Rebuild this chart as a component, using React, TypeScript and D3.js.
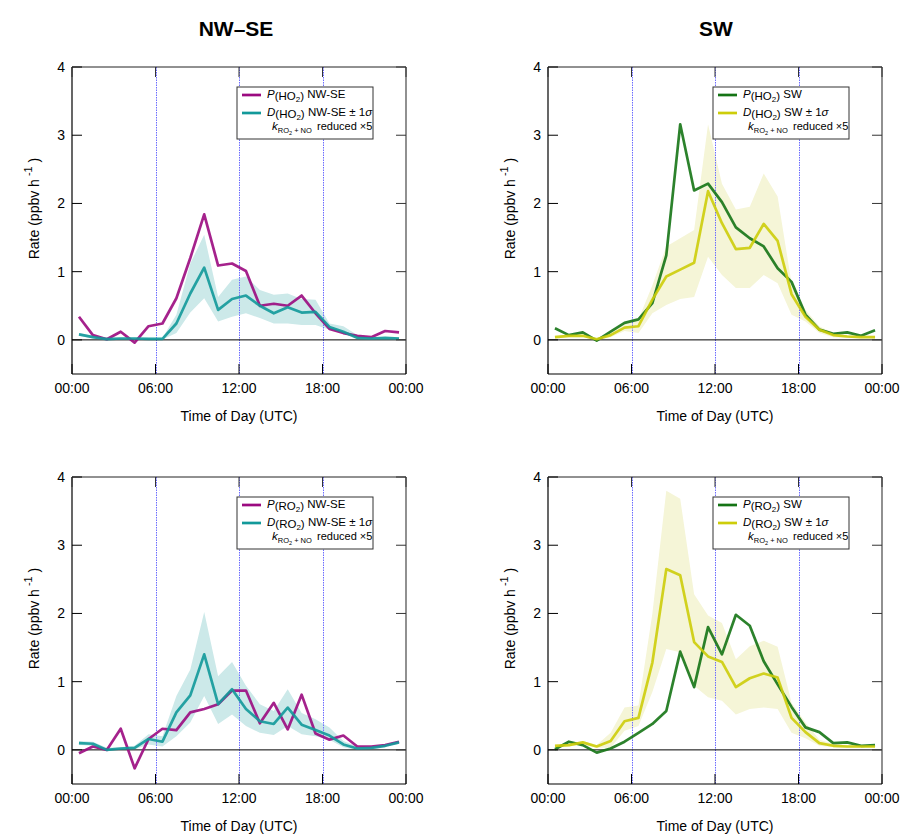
import React from "react";
import * as d3 from "d3";

const HOURS = [0.5, 1.5, 2.5, 3.5, 4.5, 5.5, 6.5, 7.5, 8.5, 9.5, 10.5, 11.5, 12.5, 13.5, 14.5, 15.5, 16.5, 17.5, 18.5, 19.5, 20.5, 21.5, 22.5, 23.5];
const X_TICKS = [0, 6, 12, 18, 24];
const X_TICK_LABELS = ["00:00", "06:00", "12:00", "18:00", "00:00"];
const Y_TICKS = [0, 1, 2, 3, 4];
const GUIDE_HOURS = [6, 12, 18];

// HO2, NW-SE
const P_HO2_NWSE = [0.34, 0.07, 0.01, 0.12, -0.04, 0.2, 0.24, 0.61, 1.2, 1.84, 1.09, 1.12, 1.01, 0.5, 0.53, 0.5, 0.65, 0.39, 0.16, 0.1, 0.06, 0.04, 0.13, 0.11];
const D_HO2_NWSE = [0.08, 0.04, 0.01, 0.02, 0.02, 0.015, 0.015, 0.24, 0.68, 1.06, 0.44, 0.6, 0.65, 0.5, 0.39, 0.48, 0.4, 0.41, 0.19, 0.12, 0.03, 0.02, 0.03, 0.02];
const D_HO2_NWSE_HI = [0.1, 0.06, 0.03, 0.03, 0.03, 0.03, 0.03, 0.37, 1.12, 1.54, 0.63, 0.88, 0.93, 0.73, 0.66, 0.68, 0.6, 0.59, 0.24, 0.2, 0.07, 0.04, 0.04, 0.04];
const D_HO2_NWSE_LO = [0.06, 0.02, 0, 0.01, 0.01, 0.005, 0.005, 0.1, 0.4, 0.61, 0.27, 0.34, 0.39, 0.32, 0.24, 0.24, 0.22, 0.22, 0.15, 0.09, 0.01, 0.01, 0.01, 0.01];

// HO2, SW
const P_HO2_SW = [0.17, 0.07, 0.11, -0.01, 0.12, 0.25, 0.3, 0.54, 1.24, 3.16, 2.19, 2.29, 2.02, 1.65, 1.49, 1.37, 1.05, 0.85, 0.37, 0.15, 0.09, 0.11, 0.06, 0.14];
const D_HO2_SW = [0.04, 0.06, 0.06, 0.01, 0.07, 0.18, 0.2, 0.59, 0.93, 1.03, 1.13, 2.18, 1.71, 1.33, 1.35, 1.7, 1.45, 0.67, 0.34, 0.15, 0.07, 0.05, 0.04, 0.04];
const D_HO2_SW_HI = [0.06, 0.08, 0.08, 0.03, 0.1, 0.25, 0.3, 0.8, 1.37, 1.49, 1.61, 3.16, 2.29, 1.91, 1.95, 2.44, 2.1, 0.83, 0.44, 0.2, 0.1, 0.07, 0.06, 0.06];
const D_HO2_SW_LO = [0.02, 0.04, 0.04, 0, 0.04, 0.13, 0.1, 0.39, 0.51, 0.6, 0.63, 1.22, 0.95, 0.76, 0.76, 0.95, 0.83, 0.37, 0.27, 0.1, 0.04, 0.03, 0.02, 0.02];

// RO2, NW-SE
const P_RO2_NWSE = [-0.05, 0.05, 0, 0.31, -0.27, 0.16, 0.31, 0.29, 0.55, 0.6, 0.67, 0.87, 0.87, 0.39, 0.69, 0.3, 0.81, 0.24, 0.15, 0.21, 0.05, 0.05, 0.07, 0.12];
const D_RO2_NWSE = [0.1, 0.09, 0, 0.02, 0.03, 0.16, 0.12, 0.55, 0.8, 1.4, 0.67, 0.89, 0.6, 0.42, 0.38, 0.62, 0.37, 0.29, 0.21, 0.08, 0.02, 0.03, 0.06, 0.11];
const D_RO2_NWSE_HI = [0.13, 0.12, 0.03, 0.04, 0.06, 0.23, 0.2, 0.79, 1.18, 2.02, 1.08, 1.29, 0.94, 0.67, 0.57, 0.89, 0.54, 0.45, 0.33, 0.13, 0.05, 0.05, 0.08, 0.13];
const D_RO2_NWSE_LO = [0.07, 0.06, -0.01, 0, 0.01, 0.08, 0.05, 0.2, 0.4, 0.79, 0.38, 0.52, 0.35, 0.25, 0.22, 0.35, 0.23, 0.2, 0.15, 0.04, 0, 0.01, 0.04, 0.09];

// RO2, SW
const P_RO2_SW = [0.01, 0.12, 0.07, -0.04, 0.02, 0.12, 0.25, 0.38, 0.57, 1.44, 0.92, 1.8, 1.4, 1.98, 1.82, 1.3, 0.96, 0.63, 0.33, 0.26, 0.1, 0.11, 0.06, 0.07];
const D_RO2_SW = [0.06, 0.07, 0.11, 0.05, 0.13, 0.42, 0.47, 1.28, 2.65, 2.56, 1.58, 1.37, 1.29, 0.92, 1.05, 1.12, 1.06, 0.47, 0.26, 0.1, 0.06, 0.05, 0.05, 0.05];
const D_RO2_SW_HI = [0.08, 0.09, 0.13, 0.07, 0.25, 0.62, 0.65, 2.0, 3.8, 3.68, 2.28, 1.97, 1.86, 1.33, 1.52, 1.6, 1.51, 0.69, 0.4, 0.15, 0.09, 0.07, 0.07, 0.07];
const D_RO2_SW_LO = [0.04, 0.05, 0.08, 0.03, 0.03, 0.28, 0.35, 0.85, 1.48, 1.43, 0.94, 0.77, 0.72, 0.52, 0.6, 0.62, 0.6, 0.25, 0.17, 0.06, 0.04, 0.03, 0.03, 0.03];

const TITLES = ["NW–SE", "SW"];
const FONT = "'Liberation Sans', Arial, Helvetica, sans-serif";

const MAGENTA = "#9b0a80";
const TEAL = "#12999a";
const TEAL_BAND = "#cce9e9";
const GREEN = "#157415";
const YELLOW = "#cdcd0a";
const YELLOW_BAND = "#f5f5d7";

type PanelProps = {
  x0: number; x1: number; y0: number; y1: number;
  P: number[]; D: number[]; hi: number[]; lo: number[];
  pColor: string; dColor: string; bandColor: string;
  species: string; region: string;
};

function Panel(props: PanelProps) {
  const { x0, x1, y0, y1, P, D, hi, lo, pColor, dColor, bandColor, species, region } = props;
  const x = d3.scaleLinear().domain([0, 24]).range([x0, x1]);
  const y = d3.scaleLinear().domain([-0.5, 4]).range([y1, y0]);
  const line = d3.line<number>().x((_, i) => x(HOURS[i])).y((v) => y(v));
  const area = d3
    .area<number>()
    .x((_, i) => x(HOURS[i]))
    .y0((_, i) => y(lo[i]))
    .y1((v) => y(v));
  const tick = 10;
  const lx = x1 - 169;
  const ly = y0 + 20;
  const cx = (x0 + x1) / 2;
  const cy = (y0 + y1) / 2;
  const LF = 11.5;
  return (
    <g fontFamily={FONT}>
      <path d={area(hi) || ""} fill={bandColor} />
      {GUIDE_HOURS.map((h) => (
        <line key={h} x1={Math.round(x(h)) + 0.5} x2={Math.round(x(h)) + 0.5} y1={y0} y2={y1} stroke="#6b6bff" strokeWidth={1} strokeDasharray="1.5,1" />
      ))}
      <line x1={x0} x2={x1} y1={y(0)} y2={y(0)} stroke="#000" strokeWidth={1} />
      <path d={line(P) || ""} fill="none" stroke={pColor} strokeWidth={2.7} strokeOpacity={0.9} strokeLinejoin="round" />
      <path d={line(D) || ""} fill="none" stroke={dColor} strokeWidth={2.7} strokeOpacity={0.9} strokeLinejoin="round" />
      {/* frame */}
      <line x1={x0} x2={x1} y1={y0} y2={y0} stroke="#222" strokeWidth={1} />
      <line x1={x1} x2={x1} y1={y0} y2={y1} stroke="#555" strokeWidth={1.3} />
      <line x1={x0} x2={x0} y1={y0} y2={y1} stroke="#000" strokeWidth={1.2} />
      <line x1={x0} x2={x1} y1={y1} y2={y1} stroke="#000" strokeWidth={1.2} />
      {Y_TICKS.map((t) => (
        <g key={"y" + t}>
          <line x1={x0} x2={x0 + tick} y1={y(t)} y2={y(t)} stroke="#000" />
          <line x1={x1 - tick} x2={x1} y1={y(t)} y2={y(t)} stroke="#333" />
          <text x={x0 - 7} y={y(t) + 5} fontSize={14} textAnchor="end" fill="#000">
            {t}
          </text>
        </g>
      ))}
      {X_TICKS.map((t, i) => (
        <g key={"x" + i}>
          <line x1={x(t)} x2={x(t)} y1={y1} y2={y1 - tick} stroke="#000" />
          <line x1={x(t)} x2={x(t)} y1={y0} y2={y0 + tick} stroke="#333" />
          <text x={x(t)} y={y1 + 19} fontSize={14} textAnchor="middle" fill="#000">
            {X_TICK_LABELS[i]}
          </text>
        </g>
      ))}
      <text x={cx} y={y1 + 47} fontSize={14} textAnchor="middle" fill="#000">
        Time of Day (UTC)
      </text>
      <text transform={`translate(${x0 - 33},${cy - 12}) rotate(-90)`} fontSize={14} textAnchor="middle" fill="#000">
        Rate (ppbv h<tspan dy={-7} fontSize={11}> -1</tspan>
        <tspan dy={7}>{"  )"}</tspan>
      </text>
      {/* legend */}
      <rect x={lx} y={ly} width={136} height={52} fill="#fff" stroke="#333" strokeWidth={1} />
      <line x1={lx + 5} x2={lx + 24} y1={ly + 8} y2={ly + 8} stroke={pColor} strokeWidth={2.7} />
      <line x1={lx + 5} x2={lx + 24} y1={ly + 26} y2={ly + 26} stroke={dColor} strokeWidth={2.7} />
      <text x={lx + 30} y={ly + 11} fontSize={LF} fill="#000">
        <tspan fontStyle="italic">P</tspan>
        <tspan dy={2}>({species}</tspan>
        <tspan dy={2} fontSize={8}>2</tspan>
        <tspan dy={-2}>)</tspan>
        <tspan dy={-2}> {region}</tspan>
      </text>
      <text x={lx + 30} y={ly + 29} fontSize={LF} fill="#000">
        <tspan fontStyle="italic">D</tspan>
        <tspan dy={2}>({species}</tspan>
        <tspan dy={2} fontSize={8}>2</tspan>
        <tspan dy={-2}>)</tspan>
        <tspan dy={-2}> {region} ± 1</tspan>
        <tspan fontStyle="italic">σ</tspan>
      </text>
      <text x={lx + 35} y={ly + 43} fontSize={LF} fill="#000">
        <tspan fontStyle="italic">k</tspan>
        <tspan dy={3} fontSize={7.5}>RO</tspan>
        <tspan dy={2} fontSize={5.5}>2</tspan>
        <tspan dy={-2} fontSize={7.5}> + NO</tspan>
      </text>
      <text x={lx + 80} y={ly + 43} fontSize={11} fill="#000">
        reduced ×5
      </text>
    </g>
  );
}

export default function App() {
  return (
    <svg width={904} height={834} style={{ position: "absolute", left: 0, top: 0, background: "#fff" }}>
      <rect x={0} y={0} width={904} height={834} fill="#fff" />
      <text x={236} y={36} fontSize={21} fontWeight="bold" textAnchor="middle" fontFamily="'Liberation Sans Narrow', 'Liberation Sans', Arial, sans-serif">
        {TITLES[0]}
      </text>
      <text x={716} y={36} fontSize={21} fontWeight="bold" textAnchor="middle" fontFamily="'Liberation Sans Narrow', 'Liberation Sans', Arial, sans-serif">
        {TITLES[1]}
      </text>
      <Panel x0={72} x1={406} y0={67} y1={374} P={P_HO2_NWSE} D={D_HO2_NWSE} hi={D_HO2_NWSE_HI} lo={D_HO2_NWSE_LO}
        pColor={MAGENTA} dColor={TEAL} bandColor={TEAL_BAND} species="HO" region="NW-SE" />
      <Panel x0={548} x1={882} y0={67} y1={374} P={P_HO2_SW} D={D_HO2_SW} hi={D_HO2_SW_HI} lo={D_HO2_SW_LO}
        pColor={GREEN} dColor={YELLOW} bandColor={YELLOW_BAND} species="HO" region="SW" />
      <Panel x0={72} x1={406} y0={477} y1={784} P={P_RO2_NWSE} D={D_RO2_NWSE} hi={D_RO2_NWSE_HI} lo={D_RO2_NWSE_LO}
        pColor={MAGENTA} dColor={TEAL} bandColor={TEAL_BAND} species="RO" region="NW-SE" />
      <Panel x0={548} x1={882} y0={477} y1={784} P={P_RO2_SW} D={D_RO2_SW} hi={D_RO2_SW_HI} lo={D_RO2_SW_LO}
        pColor={GREEN} dColor={YELLOW} bandColor={YELLOW_BAND} species="RO" region="SW" />
    </svg>
  );
}
